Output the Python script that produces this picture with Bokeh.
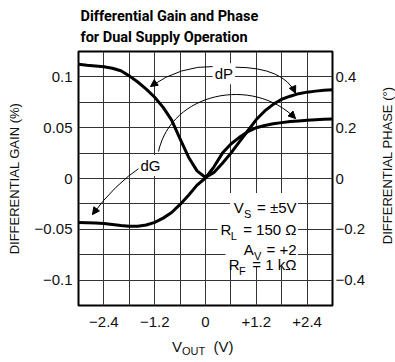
from bokeh.plotting import figure
from bokeh.models import Range1d, LinearAxis, FixedTicker, Label, Arrow, NormalHead, Div
from bokeh.layouts import column, row
from bokeh.embed import file_html
from bokeh.resources import INLINE
import math

# ---------------- data ----------------
vout = [-3.0, -2.8, -2.6, -2.4, -2.2, -2.0, -1.8, -1.6, -1.4, -1.2, -1.0,
        -0.8, -0.6, -0.4, -0.2, 0.0, 0.2, 0.4, 0.6, 0.8, 1.0,
        1.2, 1.4, 1.6, 1.8, 2.0, 2.2, 2.4, 2.6, 2.8, 3.0]
diff_gain = [-0.0433, -0.0435, -0.0438, -0.0443, -0.0452, -0.0462, -0.0470, -0.0470, -0.0458, -0.0432, -0.0390,
             -0.0335, -0.0255, -0.0165, -0.0065, 0.0005, 0.0115, 0.0250, 0.0340, 0.0405, 0.0460,
             0.0500, 0.0522, 0.0538, 0.0550, 0.0560, 0.0567, 0.0573, 0.0578, 0.0582, 0.0586]
diff_phase = [0.450, 0.446, 0.443, 0.440, 0.434, 0.424, 0.404, 0.380, 0.352, 0.320, 0.280,
              0.230, 0.156, 0.084, 0.030, 0.004, 0.024, 0.060, 0.100, 0.144, 0.188,
              0.232, 0.266, 0.292, 0.312, 0.324, 0.334, 0.340, 0.344, 0.347, 0.349]

x_ticks = [-2.4, -1.2, 0.0, 1.2, 2.4]
x_tick_labels = ["\u22122.4", "\u22121.2", "0", "+1.2", "+2.4"]
gain_ticks = [-0.1, -0.05, 0.0, 0.05, 0.1]
gain_tick_labels = ["\u22120.1", "\u22120.05", "0", "0.05", "0.1"]
phase_ticks = [-0.4, -0.2, 0.0, 0.2, 0.4]
phase_tick_labels = ["\u22120.4", "\u22120.2", "0", "0.2", "0.4"]
x_grid = [-2.4, -1.8, -1.2, -0.6, 0.0, 0.6, 1.2, 1.8, 2.4]
y_grid = [-0.1, -0.075, -0.05, -0.025, 0.0, 0.025, 0.05, 0.075, 0.1]

conditions = [("V", "S", "= \u00b15V"), ("R", "L", "= 150 \u03a9"), ("A", "V", "= +2"), ("R", "F", "= 1 k\u03a9")]

FONT = "Liberation Sans"

# ---------------- layout (Bokeh's page template has no body margin) ----------------
TOTAL_W = 395
FW, FH = 254, 254
BL, BR, BT, BB = 78, 48, 50, 30
RIGHT_W = TOTAL_W - BL - FW - BR
X0, X1, Y0, Y1 = -3.0, 3.0, -0.125, 0.125
PAGE = 0


def X(px):  # page pixel -> data x
    return X0 + (px - PAGE - BL) * (X1 - X0) / FW


def Y(py):  # page pixel -> data y (gain units)
    return Y1 - (py - PAGE - BT) * (Y1 - Y0) / FH


p = figure(frame_width=FW, frame_height=FH, x_range=Range1d(X0, X1), y_range=Range1d(Y0, Y1),
           output_backend="svg", toolbar_location=None,
           min_border_left=BL, min_border_right=BR, min_border_top=BT, min_border_bottom=BB)
p.extra_y_ranges = {"phase": Range1d(-0.5, 0.5)}

p.title.text = "Differential Gain and Phase\nfor Dual Supply Operation"
p.title.text_font = "Roboto"
p.title.text_font_size = "14.5px"
p.title.text_font_style = "bold"
p.title.align = "left"
p.title.offset = 2
p.title.standoff = 11
p.title.text_line_height = 1.24
p.title.text_color = "black"

p.outline_line_color = "black"
p.outline_line_width = 2
p.background_fill_color = "white"
p.border_fill_color = "white"

p.xgrid.ticker = FixedTicker(ticks=x_grid)
p.ygrid.ticker = FixedTicker(ticks=y_grid)
for g in (p.xgrid, p.ygrid):
    g.grid_line_color = "#333333"
    g.grid_line_width = 1
    g.grid_line_alpha = 1.0


def style_axis(ax):
    ax.axis_line_color = None
    ax.major_tick_out = 0
    ax.major_tick_in = 0
    ax.minor_tick_line_color = None
    ax.major_label_text_font = FONT
    ax.major_label_text_font_size = "15px"
    ax.major_label_text_color = "#111111"
    ax.axis_label_text_font = FONT
    ax.axis_label_text_font_size = "13px"
    ax.axis_label_text_font_style = "normal"
    ax.axis_label_text_color = "#111111"


xa = p.xaxis[0]
xa.ticker = FixedTicker(ticks=x_ticks)
xa.major_label_overrides = dict(zip(x_ticks, x_tick_labels))
style_axis(xa)
xa.major_label_standoff = 11

ya = p.yaxis[0]
ya.ticker = FixedTicker(ticks=gain_ticks)
ya.major_label_overrides = dict(zip(gain_ticks, gain_tick_labels))
ya.axis_label = "DIFFERENTIAL GAIN (%)"
style_axis(ya)
ya.major_label_standoff = 6
ya.axis_label_standoff = 10

yr = LinearAxis(y_range_name="phase", ticker=FixedTicker(ticks=phase_ticks))
yr.major_label_overrides = dict(zip(phase_ticks, phase_tick_labels))
style_axis(yr)
yr.major_label_standoff = 3
p.add_layout(yr, "right")

# white areas behind the conditions text
boxes = [(229.5, 297.5, 191.5, 265.5), (217, 229.5, 215, 237), (225, 229.5, 246, 266)]
p.quad(left=[X(b[0]) for b in boxes], right=[X(b[1]) for b in boxes],
       top=[Y(b[2]) for b in boxes], bottom=[Y(b[3]) for b in boxes],
       fill_color="white", line_color=None)

# curves
p.line(vout, diff_gain, line_width=3, color="black", line_join="round", line_cap="round")
p.line(vout, diff_phase, y_range_name="phase", line_width=3, color="black", line_join="round", line_cap="round")

# callout arcs (page pixel positions)
dp_left = dict(s=(214, 65), c=(180, 64), e=(150, 85))
dp_right = dict(s=(235, 65.7), c=(283, 66), e=(295, 91.7))
p.quadratic(x0=[X(dp_left["s"][0]), X(dp_right["s"][0])], y0=[Y(dp_left["s"][1]), Y(dp_right["s"][1])],
            x1=[X(dp_left["e"][0]), X(dp_right["e"][0])], y1=[Y(dp_left["e"][1]), Y(dp_right["e"][1])],
            cx=[X(dp_left["c"][0]), X(dp_right["c"][0])], cy=[Y(dp_left["c"][1]), Y(dp_right["c"][1])],
            line_color="black", line_width=1)
dg_up = dict(s=(158, 150), c0=(171, 91), c1=(252, 74), e=(295, 117))
p.bezier(x0=[X(dg_up["s"][0])], y0=[Y(dg_up["s"][1])], x1=[X(dg_up["e"][0])], y1=[Y(dg_up["e"][1])],
         cx0=[X(dg_up["c0"][0])], cy0=[Y(dg_up["c0"][1])], cx1=[X(dg_up["c1"][0])], cy1=[Y(dg_up["c1"][1])],
         line_color="black", line_width=1)
dg_low = dict(s=(141, 165), c=(114, 183), e=(92, 213))
p.quadratic(x0=[X(dg_low["s"][0])], y0=[Y(dg_low["s"][1])], x1=[X(dg_low["e"][0])], y1=[Y(dg_low["e"][1])],
            cx=[X(dg_low["c"][0])], cy=[Y(dg_low["c"][1])], line_color="black", line_width=1)

for ctrl, tip in [(dp_left["c"], dp_left["e"]), (dp_right["c"], dp_right["e"]),
                  (dg_up["c1"], dg_up["e"]), (dg_low["c"], dg_low["e"])]:
    dx, dy = tip[0] - ctrl[0], tip[1] - ctrl[1]
    n = math.hypot(dx, dy)
    sx, sy = tip[0] - 4 * dx / n, tip[1] - 4 * dy / n
    p.add_layout(Arrow(x_start=X(sx), y_start=Y(sy), x_end=X(tip[0]), y_end=Y(tip[1]),
                       line_width=1, line_color="black",
                       end=NormalHead(size=7, fill_color="black", line_color="black", line_width=1)))

p.add_layout(Label(x=X(223.3), y=Y(72.3), text="dP", text_align="center", text_baseline="alphabetic",
                   text_font=FONT, text_font_size="15px", text_color="black",
                   background_fill_color="white", padding=2))
p.add_layout(Label(x=X(150), y=Y(164), text="dG", text_align="center", text_baseline="alphabetic",
                   text_font=FONT, text_font_size="15px", text_color="black",
                   background_fill_color="white", padding=2))

# conditions text
main_x = [233.3, 220, 243.3, 228.3]
base_y = [205.7, 228.3, 248.3, 263.3]
right_x = 296
for (m, s, rest), mx, by in zip(conditions, main_x, base_y):
    p.add_layout(Label(x=X(mx), y=Y(by), text=m, text_align="left", text_baseline="alphabetic",
                       text_font=FONT, text_font_size="15px", text_color="black"))
    p.add_layout(Label(x=X(mx + 10.3), y=Y(by + 6.3), text=s, text_align="left", text_baseline="alphabetic",
                       text_font=FONT, text_font_size="11px", text_color="black"))
    p.add_layout(Label(x=X(right_x), y=Y(by), text=rest, text_align="right", text_baseline="alphabetic",
                       text_font=FONT, text_font_size="15px", text_color="black"))

# right axis title (reads bottom to top), as HTML beside the plot
fig_h = BT + FH + BB
ylabel_r = Div(text=('<div style="writing-mode:vertical-rl; transform:rotate(180deg); '
                     'font-family:\'Liberation Sans\'; font-size:13px; line-height:15px; color:#111111; '
                     'white-space:nowrap; margin-top:87px; margin-left:0px;">'
                     'DIFFERENTIAL PHASE (\u00b0)</div>'),
               width=RIGHT_W, height=fig_h, margin=0)

# x axis title V_OUT (V) as HTML below the plot
xlabel = Div(text=('<div style="font-family:\'Liberation Sans\'; font-size:15px; line-height:18px; '
                   'color:#111111; white-space:nowrap; margin-left:172px; margin-top:3px;">'
                   'V<sub style="font-size:11px; line-height:0; vertical-align:-3px">OUT</sub>'
                   '&nbsp;&nbsp;(V)</div>'),
             width=TOTAL_W, height=26, margin=0)

layout = column(row(p, ylabel_r, spacing=0), xlabel, spacing=0)
open("out.html", "w").write(file_html(layout, INLINE))
